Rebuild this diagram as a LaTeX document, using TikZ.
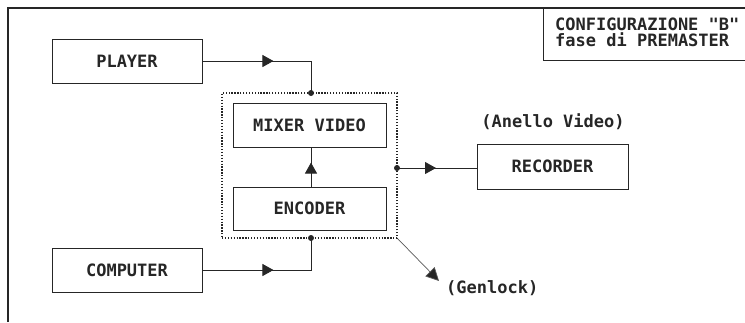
\documentclass[tikz,border=0pt]{standalone}
\usepackage{fontspec}
\newfontfamily\dotfont{DejaVu Sans Mono}
\usetikzlibrary{arrows.meta,decorations.markings}
\definecolor{ink}{gray}{0.15}
\tikzset{
  box/.style={draw=ink, line width=0.9pt, minimum width=#1, minimum height=44pt, inner sep=0pt,
    font=\dotfont\bfseries\fontsize{17}{17}\selectfont, text=ink},
  lbl/.style={inner sep=0pt, font=\dotfont\bfseries\fontsize{17}{17}\selectfont, text=ink},
  conn/.style={draw=ink, line width=0.9pt},
  midarrow/.style={postaction={decorate}, decoration={markings,
    mark=at position #1 with {\arrow{Triangle[length=11pt,width=12pt]}}}},
  joint/.style={circle, fill=ink, inner sep=0pt, minimum size=6pt},
}
\begin{document}
\begin{tikzpicture}[x=1pt,y=-1pt]
\useasboundingbox (0,0) rectangle (745,322);
% outer frame
\draw[ink, line width=1.2pt] (8,322) -- (8,8) -- (745,8);
\draw[ink, line width=0.9pt] (543,8) -- (543,60) -- (745,60);
\node[lbl, anchor=west] (t1) at (555,24) {CONFIGURAZIONE "B"};
\node[lbl, anchor=west] (t2) at (555,40) {fase di PREMASTER};
% boxes
\node[box=150pt] (player) at (127,61) {PLAYER};
\node[box=150pt] (computer) at (127,270) {COMPUTER};
\node[draw=ink, line width=1.4pt, dash pattern=on 1.3pt off 1.6pt, minimum width=175pt, minimum height=145pt, inner sep=0pt] (group) at (309.5,165.5) {};
\node[box=153pt] (mixer) at (309.5,125) {MIXER VIDEO};
\node[box=153pt, minimum height=43pt] (encoder) at (309.5,208.5) {ENCODER};
\node[box=151pt, minimum height=45pt] (recorder) at (552.5,166.5) {RECORDER};
\node[lbl] (anello) at (553,122) {(Anello Video)};
\node[lbl, anchor=west] (genlock) at (446,288) {(Genlock)};
% joints
\node[joint] (jtop) at (311,93) {};
\node[joint] (jbot) at (311,238) {};
\node[joint] (jright) at (397,168) {};
\coordinate (gl) at (439,281);
% connectors
\draw[conn, midarrow=71pt] (player.east) -| (jtop.center);
\draw[conn, midarrow=71pt] (computer.east) -| (jbot.center);
\draw[conn, midarrow=24pt] (encoder.north -| jtop) -- (mixer.south -| jtop);
\draw[conn, midarrow=39pt] (jright.center) -- (recorder.west |- jright);
\draw[draw=gray!70!black, line width=0.7pt, -{Triangle[length=13pt,width=13pt,fill=ink]}] (group.south east) -- (gl);
\end{tikzpicture}
\end{document}
